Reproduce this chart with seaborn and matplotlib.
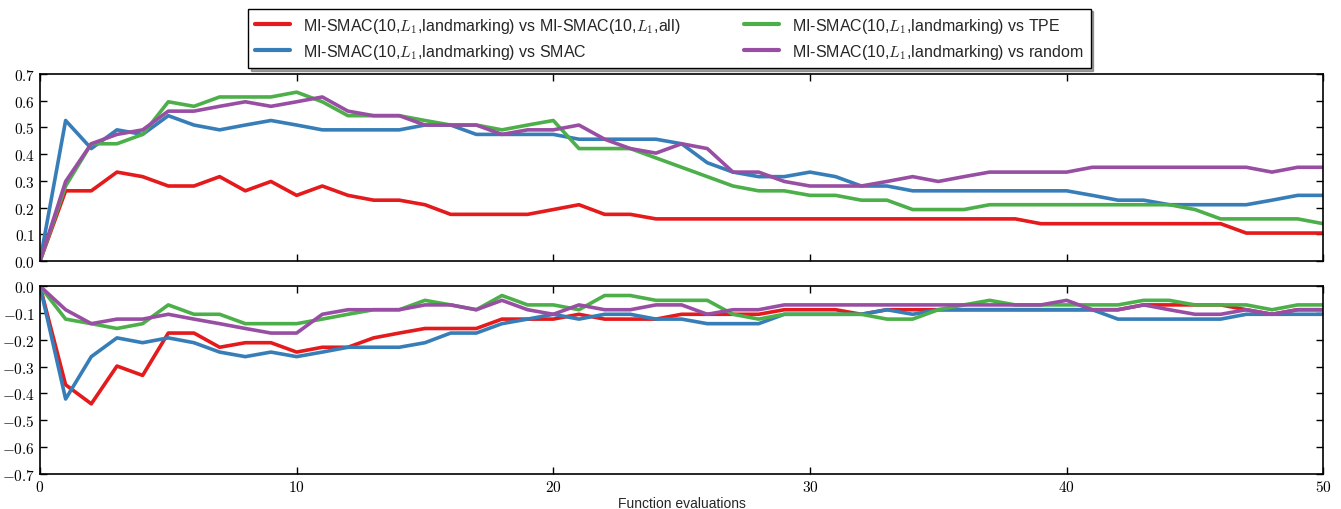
import numpy as np
import pandas as pd
import matplotlib
matplotlib.use('Agg')
import matplotlib.pyplot as plt
import matplotlib.ticker as mticker
import seaborn as sns

# --- data ---
evals = list(range(51))

top_all = [0, .263, .263, .333, .316, .281, .281, .316, .263, .298, .246, .281, .246, .228, .228, .211,
           .175, .175, .175, .175, .193, .211, .175, .175, .158, .158, .158, .158, .158, .158, .158,
           .158, .158, .158, .158, .158, .158, .158, .158, .140, .140, .140, .140, .140, .140, .140,
           .140, .105, .105, .105, .105]
top_smac = [0, .526, .421, .491, .474, .544, .509, .491, .509, .526, .509, .491, .491, .491, .491, .509,
            .509, .474, .474, .474, .474, .456, .456, .456, .456, .439, .368, .333, .316, .316, .333,
            .316, .281, .281, .263, .263, .263, .263, .263, .263, .263, .246, .228, .228, .211, .211,
            .211, .211, .228, .246, .246]
top_tpe = [0, .281, .439, .439, .474, .596, .579, .614, .614, .614, .632, .596, .544, .544, .544, .526,
           .509, .509, .491, .509, .526, .421, .421, .421, .386, .351, .316, .281, .263, .263, .246,
           .246, .228, .228, .193, .193, .193, .211, .211, .211, .211, .211, .211, .211, .211, .193,
           .158, .158, .158, .158, .140]
top_random = [0, .298, .439, .474, .491, .561, .561, .579, .596, .579, .596, .614, .561, .544, .544, .509,
              .509, .509, .474, .491, .491, .509, .456, .421, .404, .439, .421, .333, .333, .298, .281,
              .281, .281, .298, .316, .298, .316, .333, .333, .333, .333, .351, .351, .351, .351, .351,
              .351, .351, .333, .351, .351]

bot_all = [0, -.368, -.439, -.298, -.333, -.175, -.175, -.228, -.211, -.211, -.246, -.228, -.228, -.193,
           -.175, -.158, -.158, -.158, -.123, -.123, -.123, -.105, -.123, -.123, -.123, -.105, -.105,
           -.105, -.105, -.088, -.088, -.088, -.105, -.088, -.088, -.088, -.088, -.088, -.088, -.088,
           -.088, -.088, -.088, -.070, -.070, -.070, -.070, -.088, -.105, -.088, -.088]
bot_smac = [0, -.421, -.263, -.193, -.211, -.193, -.211, -.246, -.263, -.246, -.263, -.246, -.228, -.228,
            -.228, -.211, -.175, -.175, -.140, -.123, -.105, -.123, -.105, -.105, -.123, -.123, -.140,
            -.140, -.140, -.105, -.105, -.105, -.105, -.088, -.105, -.088, -.088, -.088, -.088, -.088,
            -.088, -.088, -.123, -.123, -.123, -.123, -.123, -.105, -.105, -.105, -.105]
bot_tpe = [0, -.123, -.140, -.158, -.140, -.070, -.105, -.105, -.140, -.140, -.140, -.123, -.105, -.088,
           -.088, -.053, -.070, -.088, -.035, -.070, -.070, -.088, -.035, -.035, -.053, -.053, -.053,
           -.105, -.123, -.105, -.105, -.105, -.105, -.123, -.123, -.088, -.070, -.053, -.070, -.070,
           -.070, -.070, -.070, -.053, -.053, -.070, -.070, -.070, -.088, -.070, -.070]
bot_random = [0, -.088, -.140, -.123, -.123, -.105, -.123, -.140, -.158, -.175, -.175, -.105, -.088, -.088,
              -.088, -.070, -.070, -.088, -.053, -.088, -.105, -.070, -.088, -.088, -.070, -.070, -.105,
              -.088, -.088, -.070, -.070, -.070, -.070, -.070, -.070, -.070, -.070, -.070, -.070, -.070,
              -.053, -.088, -.088, -.070, -.088, -.105, -.105, -.088, -.105, -.088, -.088]

labels = ['MI-SMAC(10,$L_1$,landmarking) vs MI-SMAC(10,$L_1$,all)',
          'MI-SMAC(10,$L_1$,landmarking) vs SMAC',
          'MI-SMAC(10,$L_1$,landmarking) vs TPE',
          'MI-SMAC(10,$L_1$,landmarking) vs random']
top_series = [top_all, top_smac, top_tpe, top_random]
bot_series = [bot_all, bot_smac, bot_tpe, bot_random]


def long_df(series):
    frames = [pd.DataFrame({'x': evals, 'y': s, 'cmp': lab}) for s, lab in zip(series, labels)]
    return pd.concat(frames, ignore_index=True)


df_top = long_df(top_series)
df_bot = long_df(bot_series)

# --- style ---
sns.set_style('ticks')
plt.rcParams['font.family'] = ['Liberation Sans', 'DejaVu Sans']
plt.rcParams['mathtext.fontset'] = 'cm'
plt.rcParams['xtick.direction'] = 'in'
plt.rcParams['ytick.direction'] = 'in'
plt.rcParams['xtick.top'] = True
plt.rcParams['ytick.right'] = True

palette = ['#e41a1c', '#377eb8', '#4daf4a', '#984ea3']

fig = plt.figure(figsize=(13.41, 5.10), dpi=100)
ax1 = fig.add_axes([0.0298, 0.486, 0.957, 0.367])
ax2 = fig.add_axes([0.0298, 0.069, 0.957, 0.368])

sns.lineplot(data=df_top, x='x', y='y', hue='cmp', palette=palette, linewidth=2.6, ax=ax1, legend=False)
sns.lineplot(data=df_bot, x='x', y='y', hue='cmp', palette=palette, linewidth=2.6, ax=ax2, legend=False)


def ytick(v, p):
    v = round(v, 1)
    if v == 0:
        return r'$0.0$'
    return f'${v:.1f}$'


for ax in (ax1, ax2):
    ax.set_xlim(0, 50)
    ax.set_xticks([0, 10, 20, 30, 40, 50])
    ax.xaxis.set_major_formatter(mticker.FuncFormatter(lambda v, p: f'${v:.0f}$'))
    ax.yaxis.set_major_formatter(mticker.FuncFormatter(ytick))
    ax.tick_params(labelsize=11, length=5, width=1, colors='black')
    ax.set_ylabel('')
    for sp in ax.spines.values():
        sp.set_color('black')
        sp.set_linewidth(1.2)

ax1.set_ylim(0, 0.7)
ax1.set_yticks(np.arange(0, 0.71, 0.1))
ax1.set_xlabel('')
ax1.tick_params(labelbottom=False)

ax2.set_ylim(-0.7, 0)
ax2.set_yticks(np.arange(-0.7, 0.01, 0.1))
ax2.set_xlabel('Function evaluations', fontsize=10, labelpad=2)

handles = [plt.Line2D([], [], color=c, lw=3) for c in palette]
leg = fig.legend(handles, labels, loc='upper center', bbox_to_anchor=(0.499, 0.997), ncol=2,
                 fontsize=11.5, frameon=True, fancybox=False, shadow=True, edgecolor='black',
                 columnspacing=4.0, handlelength=2.2, borderpad=0.45, labelspacing=0.45)
leg.get_frame().set_linewidth(1.0)

fig.savefig('out.png', dpi=100)
